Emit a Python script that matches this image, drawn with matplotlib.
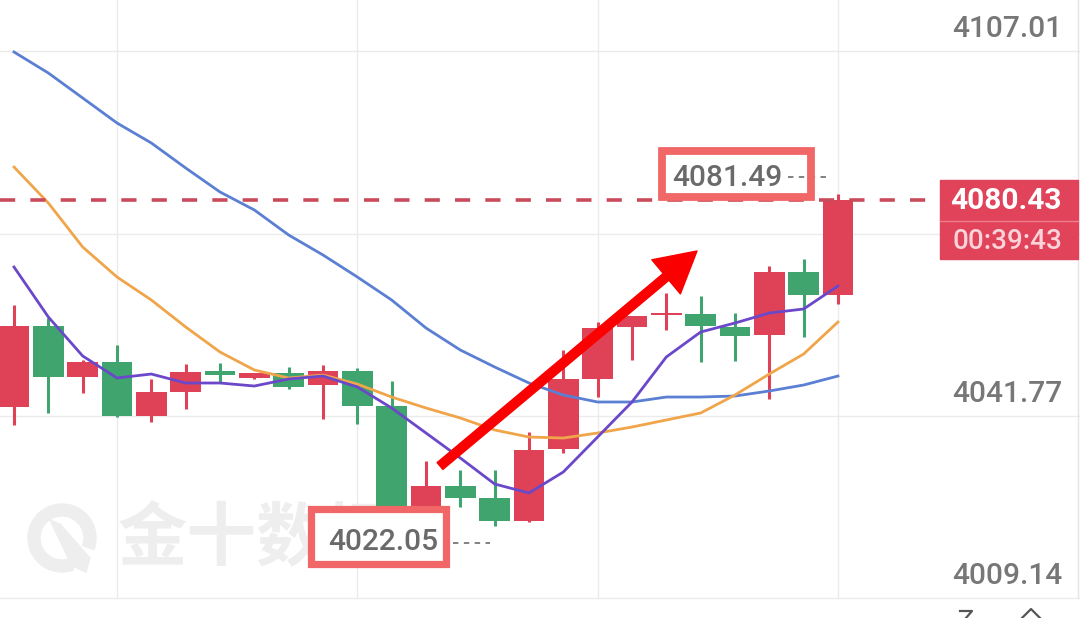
import numpy as np
import matplotlib.pyplot as plt
from matplotlib.patches import Rectangle, Wedge, Polygon, FancyArrowPatch

# candles, oldest first (red = up, green = down)
opens = [4043.35, 4057.86, 4048.73, 4051.41, 4041.74, 4046.04, 4049.80, 4048.55, 4049.44,
         4047.29, 4049.80, 4043.53, 4025.63, 4029.21, 4027.06, 4022.95, 4035.83, 4048.37,
         4057.68, 4059.83, 4060.01, 4057.68, 4056.25, 4067.52, 4063.41]
highs = [4061.62, 4059.29, 4051.77, 4054.45, 4048.37, 4051.05, 4051.23, 4049.50, 4050.52,
         4050.87, 4050.34, 4048.01, 4033.69, 4032.07, 4032.07, 4038.88, 4053.56, 4058.57,
         4059.70, 4063.77, 4063.23, 4060.18, 4068.60, 4069.85, 4081.49]
lows = [4040.13, 4042.28, 4045.86, 4041.56, 4040.67, 4043.00, 4047.83, 4048.37, 4046.58,
        4041.21, 4040.31, 4023.30, 4023.30, 4025.45, 4022.05, 4022.80, 4035.12, 4045.14,
        4051.77, 4057.14, 4051.41, 4051.59, 4044.79, 4055.89, 4061.80]
closes = [4057.86, 4048.73, 4051.41, 4041.74, 4046.04, 4049.62, 4049.08, 4049.44, 4046.94,
          4049.80, 4043.53, 4025.45, 4029.21, 4027.06, 4022.95, 4035.66, 4048.37, 4057.50,
          4059.65, 4060.01, 4057.86, 4056.07, 4067.52, 4063.41, 4080.43]

# moving averages
ma_short = [4068.42, 4059.47, 4052.49, 4048.55, 4049.26, 4047.65, 4047.65, 4047.11, 4048.37,
            4048.90, 4046.94, 4043.18, 4038.70, 4034.22, 4029.57, 4027.96, 4031.72, 4037.98,
            4044.25, 4052.31, 4056.78, 4058.39, 4060.18, 4060.90, 4065.02]
ma_mid = [4086.32, 4079.88, 4072.00, 4066.63, 4062.51, 4057.68, 4053.20, 4049.98, 4048.55,
          4049.08, 4047.47, 4045.14, 4043.18, 4041.39, 4039.24, 4037.98, 4037.80, 4038.70,
          4039.77, 4041.03, 4042.28, 4045.50, 4049.26, 4052.84, 4058.57]
ma_long = [4106.91, 4103.15, 4098.68, 4094.20, 4090.62, 4086.15, 4081.85, 4078.63, 4074.15,
           4070.57, 4066.63, 4062.51, 4057.50, 4053.56, 4050.52, 4047.65, 4045.50, 4044.25,
           4044.25, 4045.14, 4045.14, 4045.32, 4046.22, 4047.29, 4048.90]

grid_prices = [4107.01, 4074.39, 4041.77, 4009.14]
label_prices = [4107.01, 4041.77, 4009.14]
last_price = 4080.43
countdown = '00:39:43'

UP, DOWN = '#df4257', '#3fa46d'
FONT = ['Roboto', 'DejaVu Sans']
FS = 21.5
W, H = 1080, 618

fig = plt.figure(figsize=(W / 100, H / 100), dpi=100)
fig.patch.set_facecolor('white')

bg = fig.add_axes([0, 0, 1, 1])
bg.set_xlim(0, W); bg.set_ylim(H, 0); bg.axis('off')
ax = fig.add_axes([0, 0, 1, 1])
ax.set_facecolor('none'); ax.axis('off')
ax.set_xlim(-0.408, 31.05)
ax.set_ylim(4005.58, 4116.22)
ov = fig.add_axes([0, 0, 1, 1])
ov.set_xlim(0, W); ov.set_ylim(H, 0); ov.axis('off')


def to_px(x, p):
    dx, dy = ax.transData.transform((x, p))
    return dx, H - dy


# watermark
bg.text(118, 540, '金十数据', fontsize=50, fontweight='bold', color='#eeeeee',
        family=['Noto Sans CJK SC'], ha='left', va='center')
bg.add_patch(Wedge((62, 538), 34, 70, 380, width=12, color='#eeeeee'))
bg.add_patch(Polygon([(50, 520), (60, 524), (90, 558), (86, 572), (72, 566)], color='#eeeeee'))

# grid (behind everything)
x = np.arange(len(opens))
bottom_px = to_px(0, grid_prices[-1])[1]
for p in grid_prices:
    yy = to_px(0, p)[1]
    bg.plot([0, W], [yy, yy], color='#ebebeb', lw=1)
for i in [3, 10, 17, 24]:
    xx = to_px(i, 0)[0]
    bg.plot([xx, xx], [0, bottom_px], color='#ebebeb', lw=1)
bg.plot([1078, 1078], [0, bottom_px], color='#e4e4e4', lw=1)

# candles
o, c = np.array(opens), np.array(closes)
colors = np.where(c >= o, UP, DOWN)
ax.vlines(x, lows, highs, colors=colors, lw=2.2, zorder=2)
ax.bar(x, np.maximum(np.abs(c - o), 0.35), bottom=np.minimum(o, c), width=0.9,
       color=colors, zorder=3)

# moving averages
ax.plot(x, ma_long, color='#5a7fd3', lw=2.0, zorder=4)
ax.plot(x, ma_mid, color='#f0a54a', lw=2.0, zorder=4)
ax.plot(x, ma_short, color='#6a48c9', lw=2.0, zorder=4)

# last price line + tag
ly = to_px(0, last_price)[1]
ov.plot([0, 940], [ly, ly], color='#c94a5a', lw=2.6, dashes=(4.2, 4.2), zorder=1)
ov.add_patch(Rectangle((940, ly - 20), 138, 79, color='#e0435a', zorder=5))
ov.plot([940, 1078], [ly + 21, ly + 21], color='#ef7d8c', lw=1, zorder=6)
ov.text(1062, ly + 1, f'{last_price:.2f}', color='white', fontsize=FS, fontweight='bold',
        family=FONT, ha='right', va='center', zorder=7)
ov.text(1062, ly + 42, countdown, color='#fbd3d8', fontsize=FS - 1.5, fontweight='medium',
        family=FONT, ha='right', va='center', zorder=7)

# price scale labels
for p in label_prices:
    yy = to_px(0, p)[1]
    ov.text(1062, yy - 22, f'{p:.2f}', color='#777777', fontsize=FS, fontweight='medium',
            family=FONT, ha='right', va='center')

# high / low markers with highlight boxes
ih, il = int(np.argmax(highs)), int(np.argmin(lows))
hx, hy = to_px(ih, highs[ih])
lx, lyy = to_px(il, lows[il])
BOX = '#f16666'

ov.text(hx - 166, hy - 16, f'{highs[ih]:.2f}', color='#6a6a6a', fontsize=FS,
        fontweight='medium', family=FONT, ha='left', va='center', zorder=7)
ov.plot([hx - 50, hx - 8], [hy - 17, hy - 17], color='#777777', lw=1.3, dashes=(3, 3))
ov.add_patch(Rectangle((hx - 176, hy - 43), 149, 46, fill=False, ec=BOX, lw=5.6, zorder=8))

ov.add_patch(Rectangle((lx - 184, lyy - 17), 135, 55, fc='white', ec=BOX, lw=5.2, zorder=8))
ov.text(lx - 167, lyy + 16, f'{lows[il]:.2f}', color='#6a6a6a', fontsize=FS,
        fontweight='medium', family=FONT, ha='left', va='center', zorder=9)
ov.plot([lx - 42, lx - 5], [lyy + 17, lyy + 17], color='#777777', lw=1.3, dashes=(3, 3))

# trend arrow
ov.add_patch(FancyArrowPatch((440, 466), (697, 251), shrinkA=0, shrinkB=0,
                             arrowstyle='simple,head_length=1.45,head_width=1.6,tail_width=0.32',
                             mutation_scale=20, color='#fb0000', zorder=10))

# toolbar icons peeking at bottom right
ov.plot([960, 972, 966], [611, 611, 618], color='#555555', lw=1.6)
ov.plot([1022, 1031, 1040], [618, 609, 618], color='#555555', lw=1.6)

fig.savefig('out.png', dpi=100, facecolor='white')
